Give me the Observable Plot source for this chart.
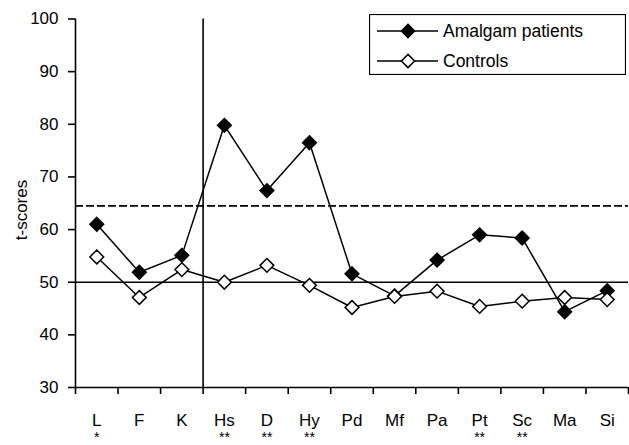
<!DOCTYPE html>
<html>
<head>
<meta charset="utf-8">
<script src="https://cdn.jsdelivr.net/npm/d3@7"></script>
<script src="https://cdn.jsdelivr.net/npm/@observablehq/plot@0.6"></script>
<style>
  html, body { margin: 0; padding: 0; background: #fff; }
  #wrap { position: relative; width: 629px; height: 445px; overflow: hidden; font-family: "Liberation Sans", Arial, sans-serif; }
  #legend { position: absolute; left: 369px; top: 14px; }
  #ylabel { position: absolute; left: 21px; top: 210px; transform: translate(-50%, -50%) rotate(-90deg);
            white-space: nowrap; font-size: 17px; line-height: 1; color: #000; }
</style>
</head>
<body>
<div id="wrap"></div>
<script>
// ---- data ----
const categories = ["L", "F", "K", "Hs", "D", "Hy", "Pd", "Mf", "Pa", "Pt", "Sc", "Ma", "Si"];
const significance = ["*", "", "", "**", "**", "**", "", "", "", "**", "**", "", ""];
const amalgam = [61.0, 51.9, 55.1, 79.8, 67.4, 76.5, 51.6, 47.4, 54.2, 59.0, 58.4, 44.4, 48.4];
const controls = [54.8, 47.1, 52.4, 50.0, 53.2, 49.4, 45.2, 47.3, 48.3, 45.4, 46.4, 47.1, 46.7];
const yTicks = [30, 40, 50, 60, 70, 80, 90, 100];
const yLabel = "t-scores";
const normLine = 50;
const cutoffLine = 64.5;
const separatorAfter = 3; // validity scales L, F, K | clinical scales
const seriesNames = ["Amalgam patients", "Controls"];
const seriesFills = ["#000", "#fff"];

// ---- build ----
const rows = categories.map((c, i) => ({i, c, amalgam: amalgam[i], controls: controls[i]}));
const FONT = "Liberation Sans, Arial, sans-serif";
const FS = 17;

const chart = Plot.plot({
  width: 629,
  height: 445,
  marginLeft: 75,
  marginRight: 1,
  marginTop: 18.5,
  marginBottom: 58,
  style: {fontFamily: FONT, fontSize: FS + "px", background: "#fff", color: "#000"},
  x: {type: "linear", domain: [0, categories.length]},
  y: {domain: [30, 100]},
  marks: [
    Plot.ruleY([normLine], {stroke: "#000", strokeWidth: 1.6}),
    Plot.ruleY([cutoffLine], {stroke: "#000", strokeWidth: 1.6, strokeDasharray: "8,3"}),
    Plot.ruleX([separatorAfter], {stroke: "#000", strokeWidth: 1.6}),
    Plot.ruleX([0], {stroke: "#000", strokeWidth: 1.6}),
    Plot.ruleY([30], {stroke: "#000", strokeWidth: 1.6}),
    Plot.axisY({ticks: yTicks, tickSize: 7, tickPadding: 10, label: null, fontSize: FS, strokeWidth: 1.6}),
    Plot.axisX({ticks: d3.range(categories.length + 1), tickFormat: () => "", tickSize: 7, label: null, strokeWidth: 1.6}),
    Plot.axisX({ticks: categories.map((c, i) => i + 0.5), tickFormat: d => categories[Math.floor(d)], tickSize: 0, tickPadding: 26, label: null, fontSize: FS}),
    Plot.axisX({ticks: categories.map((c, i) => i + 0.5), tickFormat: d => significance[Math.floor(d)], tickSize: 0, tickPadding: 45, label: null, fontSize: 14}),
    Plot.line(rows, {x: d => d.i + 0.5, y: "amalgam", stroke: "#000", strokeWidth: 1.5}),
    Plot.dot(rows, {x: d => d.i + 0.5, y: "amalgam", symbol: "diamond2", r: 6.2, fill: seriesFills[0], stroke: "#000", strokeWidth: 1.5}),
    Plot.line(rows, {x: d => d.i + 0.5, y: "controls", stroke: "#000", strokeWidth: 1.5}),
    Plot.dot(rows, {x: d => d.i + 0.5, y: "controls", symbol: "diamond2", r: 6.2, fill: seriesFills[1], stroke: "#000", strokeWidth: 1.5})
  ]
});

const wrap = document.getElementById("wrap");
wrap.appendChild(chart);

// ---- y-axis title ----
const yl = document.createElement("div");
yl.id = "ylabel";
yl.textContent = yLabel;
wrap.appendChild(yl);

// ---- legend ----
const legend = d3.create("svg")
  .attr("id", "legend")
  .attr("width", 257)
  .attr("height", 61)
  .style("font-family", FONT)
  .style("font-size", "17.5px");
legend.append("rect").attr("x", 0.5).attr("y", 0.5).attr("width", 256).attr("height", 60)
  .attr("fill", "#fff").attr("stroke", "#000").attr("stroke-width", 1.2);
seriesNames.forEach((name, k) => {
  const cy = 17 + k * 30;
  legend.append("line").attr("x1", 8).attr("x2", 69).attr("y1", cy).attr("y2", cy)
    .attr("stroke", "#000").attr("stroke-width", 1.5);
  const h = 6.6;
  legend.append("polygon")
    .attr("points", `39,${cy - h} ${39 + h},${cy} 39,${cy + h} ${39 - h},${cy}`)
    .attr("fill", seriesFills[k]).attr("stroke", "#000").attr("stroke-width", 1.5);
  legend.append("text").attr("x", 74).attr("y", cy).attr("dy", "0.35em").text(name);
});
wrap.appendChild(legend.node());
</script>
</body>
</html>
